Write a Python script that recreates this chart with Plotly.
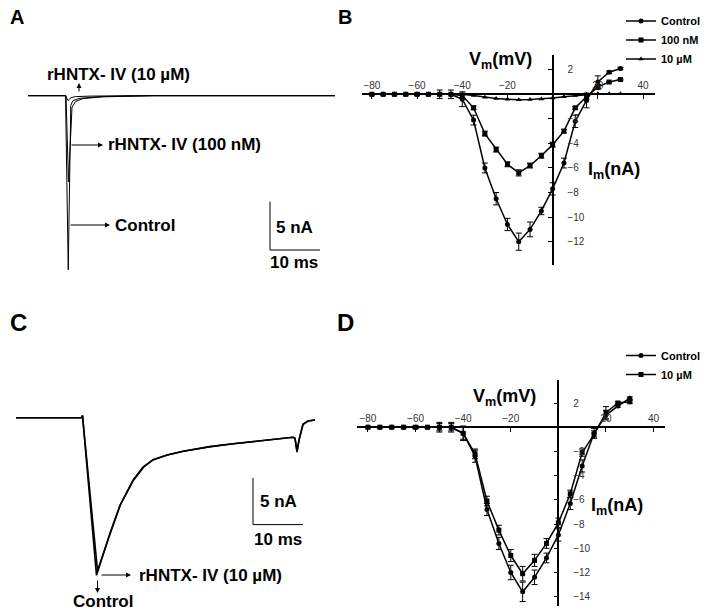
import plotly.graph_objects as go

W, H = 698, 599
OFF = 8  # the page body margin shifts the figure by this many pixels

# ---- panel A: current traces (time ms, current nA)
a_ctrl_t = [0, 7.5, 8.05, 8.55, 9.0, 10.4, 14.4, 25, 61.4]
a_ctrl_i = [0, 0, -18.0, -1.0, -0.5, -0.27, -0.1, 0, 0]
a_100nm_t = [0, 7.6, 8.1, 8.8, 9.5, 11, 15, 25, 61.4]
a_100nm_i = [0, 0, -8.9, -1.2, -0.6, -0.3, -0.12, 0, 0]
a_10um_t = [0, 7.5, 8.0, 8.6, 9.5, 12, 20, 61.4]
a_10um_i = [0, 0, -0.5, -0.2, -0.1, -0.05, 0, 0]

# ---- panel C: current traces
c_ctrl_t = [0, 13.1, 13.3, 16.1, 18.8, 20.8, 23.4, 25.4, 27.4, 30.2, 33.4, 38.8, 43.4, 48.8, 55.4, 55.8, 56.2, 56.6, 57.4, 58.4, 59.8]
c_ctrl_i = [0, 0, 0.25, -16.9, -12.4, -9.4, -6.7, -5.3, -4.5, -4.0, -3.6, -3.1, -2.8, -2.5, -2.1, -2.2, -3.7, -2.4, -0.7, -0.35, -0.25]
c_10um_t = [0, 13.1, 13.3, 16.3, 18.9, 20.9, 23.5, 25.5, 27.5, 30.3, 33.5, 38.9, 43.5, 48.9, 55.4, 55.8, 56.2, 56.6, 57.4, 58.4, 59.8]
c_10um_i = [0, 0, 0.2, -16.4, -12.3, -9.3, -6.7, -5.3, -4.5, -4.0, -3.6, -3.1, -2.8, -2.5, -2.1, -2.2, -3.6, -2.4, -0.7, -0.35, -0.25]

# ---- I-V data (mV, nA)
vm = [-80, -75, -70, -65, -60, -55, -50, -45, -40, -35, -30, -25, -20, -15, -10, -5, 0, 5, 10, 15, 20, 25, 30]

b_ctrl = [0, 0, 0, 0, 0, 0, 0, 0, -0.4, -2.1, -6.0, -8.5, -10.6, -12.0, -11.0, -9.5, -7.7, -5.6, -2.2, -0.5, 1.0, 1.8, 2.1]
b_ctrl_err = [0.05, 0.05, 0.05, 0.05, 0.1, 0.05, 0.35, 0.35, 0.6, 0.4, 0.4, 0.5, 0.5, 0.7, 0.6, 0.3, 0.5, 0.4, 0.5, 0.6, 0.5, 0.1, 0.1]
b_100nm = [0, 0, 0, 0, 0, 0, 0, 0, -0.1, -1.1, -3.2, -4.5, -5.7, -6.4, -5.8, -5.0, -4.1, -3.0, -1.1, -0.2, 0.6, 1.0, 1.2]
b_100nm_err = [0, 0, 0, 0, 0, 0, 0, 0, 0.2, 0.15, 0.2, 0.2, 0.2, 0.25, 0.2, 0.2, 0.2, 0.15, 0.1, 0.2, 0.2, 0.05, 0.05]
b_10um = [0, 0, 0, 0, 0, 0, 0, 0, 0, -0.1, -0.25, -0.35, -0.4, -0.45, -0.42, -0.38, -0.3, -0.2, -0.1, 0, 0.05, 0.05, 0.05]

d_ctrl = [0, 0, 0, 0, 0, 0, 0, 0, -0.5, -2.4, -6.8, -9.6, -12.0, -13.6, -12.4, -10.8, -8.9, -6.3, -3.2, -0.5, 1.0, 1.75, 2.4]
d_ctrl_err = [0.05, 0.05, 0.05, 0.05, 0.1, 0.05, 0.4, 0.4, 0.6, 0.5, 0.5, 0.5, 0.6, 0.8, 0.6, 0.4, 0.5, 0.5, 0.5, 0.4, 0.4, 0.1, 0.1]
d_10um = [0, 0, 0, 0, 0, 0, 0, 0, -0.5, -2.2, -6.1, -8.5, -10.6, -12.1, -11.0, -9.6, -7.9, -5.5, -2.1, -0.6, 1.2, 2.0, 2.1]
d_10um_err = [0.05, 0.05, 0.05, 0.05, 0.1, 0.05, 0.3, 0.3, 0.5, 0.4, 0.4, 0.4, 0.5, 0.6, 0.5, 0.4, 0.4, 0.3, 0.3, 0.3, 0.5, 0.1, 0.1]

x_tickvals = [-80, -60, -40, -20, 20, 40]
b_ytickvals = [2, -2, -4, -6, -8, -10, -12]
d_ytickvals = [2, -2, -4, -6, -8, -10, -12, -14]

FONT = "Arial, Liberation Sans, sans-serif"


def px(x):
    return (x - OFF) / W


def py(y):
    return 1 - (y - OFF) / H


fig = go.Figure()

# panel A traces
for t, i in [(a_ctrl_t, a_ctrl_i), (a_100nm_t, a_100nm_i), (a_10um_t, a_10um_i)]:
    fig.add_trace(go.Scatter(x=t, y=i, mode="lines", line=dict(color="black", width=1),
                             xaxis="x", yaxis="y", showlegend=False, hoverinfo="skip"))

# panel C traces
for t, i in [(c_ctrl_t, c_ctrl_i), (c_10um_t, c_10um_i)]:
    fig.add_trace(go.Scatter(x=t, y=i, mode="lines", line=dict(color="black", width=1.6),
                             xaxis="x3", yaxis="y3", showlegend=False, hoverinfo="skip"))


def iv_trace(y, err, name, symbol, xa, ya, leg):
    return go.Scatter(
        x=vm, y=y, name=name, mode="lines+markers",
        line=dict(color="black", width=1.5),
        marker=dict(symbol=symbol, size=5, color="black"),
        error_y=dict(type="data", array=err, color="black", thickness=1, width=3) if err else None,
        xaxis=xa, yaxis=ya, legend=leg, cliponaxis=False,
    )


fig.add_trace(iv_trace(b_ctrl, b_ctrl_err, "Control", "circle", "x2", "y2", "legend"))
fig.add_trace(iv_trace(b_100nm, b_100nm_err, "100 nM", "square", "x2", "y2", "legend"))
fig.add_trace(iv_trace(b_10um, None, "10 µM", "triangle-up", "x2", "y2", "legend"))
fig.add_trace(iv_trace(d_ctrl, d_ctrl_err, "Control", "circle", "x4", "y4", "legend2"))
fig.add_trace(iv_trace(d_10um, d_10um_err, "10 µM", "square", "x4", "y4", "legend2"))

# axis geometry (pixels) for the I-V panels
b_xdom = [px(361.7), px(655)]
b_ydom = [py(265), py(55)]
b_xr = [-84.5, 45.3]
b_yr = [-13.9, 3.2]
d_xdom = [px(357), px(665)]
d_ydom = [py(606), py(380)]
d_xr = [-84.6, 44.8]
d_yr = [-14.77, 3.9]


def zero_pos(dom, rng):
    return dom[0] + (0 - rng[0]) / (rng[1] - rng[0]) * (dom[1] - dom[0])


tickfont = dict(family=FONT, size=10, color="#333")
iv_x = dict(anchor="free", side="top", ticks="inside", ticklen=4, tickwidth=1.2,
            tickvals=x_tickvals, showline=True, linecolor="black", linewidth=1.6,
            tickcolor="black", showgrid=False, zeroline=False, tickfont=tickfont)
iv_y = dict(anchor="free", side="right", ticks="inside", ticklen=4, tickwidth=1.2,
            showline=True, linecolor="black", linewidth=1.6, tickcolor="black",
            showgrid=False, zeroline=False, tickfont=tickfont, ticklabelstandoff=12)
hidden = dict(visible=False, showgrid=False, zeroline=False)
legfont = dict(family=FONT, size=11, color="black", weight="bold")

fig.update_layout(
    width=W, height=H, margin=dict(l=0, r=0, t=0, b=0, autoexpand=False),
    paper_bgcolor="white", plot_bgcolor="rgba(0,0,0,0)",
    font=dict(family=FONT, color="black"),
    xaxis=dict(domain=[px(28), px(335)], range=[0, 61.4], **hidden),
    yaxis=dict(domain=[py(280), py(60)], range=[-19.06, 3.69], **hidden),
    xaxis3=dict(domain=[px(16), px(316)], range=[0, 60], **hidden),
    yaxis3=dict(domain=[py(600), py(380)], range=[-19.54, 4.04], **hidden),
    xaxis2=dict(domain=b_xdom, range=b_xr, position=zero_pos(b_ydom, b_yr), **iv_x),
    yaxis2=dict(domain=b_ydom, range=b_yr, position=zero_pos(b_xdom, b_xr),
                tickvals=b_ytickvals, **iv_y),
    xaxis4=dict(domain=d_xdom, range=d_xr, position=zero_pos(d_ydom, d_yr), **iv_x),
    yaxis4=dict(domain=d_ydom, range=d_yr, position=zero_pos(d_xdom, d_xr),
                tickvals=d_ytickvals, **iv_y),
    legend=dict(x=1, y=py(6.5), xanchor="right", yanchor="top", font=legfont,
                bgcolor="rgba(0,0,0,0)", itemwidth=30, tracegroupgap=0),
    legend2=dict(x=1, y=py(341), xanchor="right", yanchor="top", font=legfont,
                 bgcolor="rgba(0,0,0,0)", itemwidth=30, tracegroupgap=0),
    showlegend=True,
)

# scale bars (data units: 5 nA, 10 ms)
for xa, ya, t0, i0 in [("x", "y", 48.4, -15.96), ("x3", "y3", 47.4, -11.46)]:
    fig.add_shape(type="line", xref=xa, yref=ya, x0=t0, x1=t0, y0=i0, y1=i0 + 5,
                  line=dict(color="black", width=1))
    fig.add_shape(type="line", xref=xa, yref=ya, x0=t0, x1=t0 + 10, y0=i0, y1=i0,
                  line=dict(color="black", width=1))

bold = dict(family=FONT, size=17, color="black", weight="bold")


def label(text, x, y, xanchor="left", font=bold):
    fig.add_annotation(text=text, x=px(x), y=py(y), xref="paper", yref="paper",
                       xanchor=xanchor, yanchor="middle", showarrow=False, font=font)


def arrow(tx, ty, hx, hy):
    fig.add_annotation(text="", x=px(hx), y=py(hy), xref="paper", yref="paper",
                       ax=tx - hx, ay=ty - hy, axref="pixel", ayref="pixel",
                       showarrow=True, arrowhead=2, arrowsize=1, arrowwidth=1,
                       arrowcolor="black")


letter_small = dict(family=FONT, size=20, color="black", weight="bold")
letter_big = dict(family=FONT, size=24, color="black", weight="bold")
label("A", 8, 17, font=letter_small)
label("B", 336, 17, font=letter_small)
label("C", 8, 322, font=letter_big)
label("D", 335, 322, font=letter_big)

# panel A labels
label("rHNTX- IV (10 µM)", 45, 74)
arrow(79, 93, 79, 83)
label("rHNTX- IV (100 nM)", 106, 145)
arrow(70, 145, 103, 145)
label("Control", 113, 225)
arrow(69, 225, 110, 225)
label("5 nA", 274, 228)
label("10 ms", 294, 262, xanchor="center")

# panel C labels
label("rHNTX- IV (10 µM)", 137, 575)
arrow(100, 575, 131, 575)
arrow(97.5, 579, 97.5, 593)
label("Control", 103, 601, xanchor="center")
label("5 nA", 258, 501)
label("10 ms", 278, 539, xanchor="center")

# I-V axis titles
axis_font = dict(family=FONT, size=18, color="black", weight="bold")
label("V<sub>m</sub>(mV)", 500, 61, xanchor="center", font=axis_font)
label("I<sub>m</sub>(nA)", 614, 170, xanchor="center", font=axis_font)
label("V<sub>m</sub>(mV)", 504, 398, xanchor="center", font=axis_font)
label("I<sub>m</sub>(nA)", 617, 506, xanchor="center", font=axis_font)

fig.write_html("out.html")
